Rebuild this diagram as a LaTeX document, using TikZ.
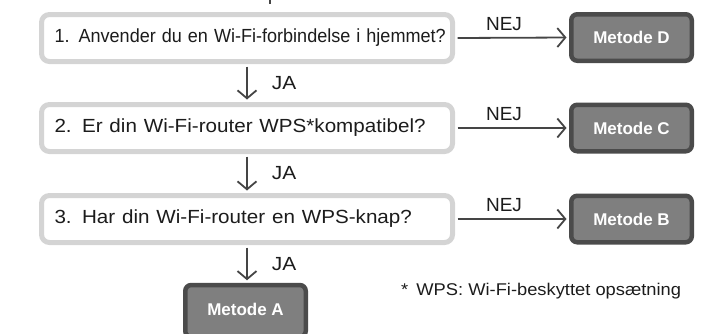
\documentclass[tikz,border=0pt]{standalone}
\usepackage{graphicx}
\usepackage{fontspec}
\setmainfont{Liberation Sans}
\usetikzlibrary{arrows.meta}
\definecolor{qborder}{HTML}{D4D4D4}
\definecolor{mborder}{HTML}{4B4B4B}
\definecolor{mfill}{HTML}{7F7F7F}
\definecolor{arrcol}{HTML}{454545}
\definecolor{txtcol}{HTML}{1C1C1C}
\tikzset{
  qbox/.style={draw=qborder, line width=5pt, fill=white, rounded corners=8pt,
    minimum width=411pt, minimum height=47pt, text width=385pt, align=left,
    inner xsep=13pt, font=\fontsize{19}{21}\selectfont, text=txtcol},
  mbox/.style={draw=mborder, line width=4.5pt, fill=mfill, rounded corners=6pt,
    minimum width=120.5pt, minimum height=46.5pt, inner sep=0pt,
    font=\fontsize{17}{19}\selectfont\bfseries, text=white},
  arr/.style={draw=arrcol, line width=1.8pt,
    -{Straight Barb[length=8pt,width=19pt,line width=1.8pt]},
    shorten <=2.5pt, shorten >=2.5pt},
  lbl/.style={font=\fontsize{19}{21}\selectfont, text=txtcol, inner sep=0pt},
}
\begin{document}
\begin{tikzpicture}[x=1pt,y=-1pt]
\useasboundingbox (0,0) rectangle (701,333);
\clip (0,0) rectangle (701,333);
\coordinate (top) at (270,0);
\draw[arrcol, line width=1.5pt] (top) -- ++(0,4);
\node[qbox] (q1) at (247,38) {\scalebox{0.95}[1]{1. Anvender du en Wi-Fi-forbindelse i hjemmet?}};
\node[qbox] (q2) at (247,128) {\scalebox{1.085}[1]{2. Er din Wi-Fi-router WPS*kompatibel?}};
\node[qbox] (q3) at (247,219) {\scalebox{1.085}[1]{3. Har din Wi-Fi-router en WPS-knap?}};
\node[mbox] (mD) at (631.5,37.5) {Metode D};
\node[mbox] (mC) at (631.5,128) {Metode C};
\node[mbox] (mB) at (631.5,219) {Metode B};
\node[mbox, minimum height=52pt] (mA) at (245.5,311) {};
\node[font=\fontsize{17}{19}\selectfont\bfseries, text=white] (mAt) at (245.5,309.5) {Metode A};
\draw[arr] (q1.south) -- (q2.north) node[lbl, midway, anchor=west, xshift=24pt] (ja1) {\scalebox{1.1}[1]{JA}};
\draw[arr] (q2.south) -- (q3.north) node[lbl, midway, anchor=west, xshift=24pt] (ja2) {\scalebox{1.1}[1]{JA}};
\draw[arr] (q3.south) -- (q3.south |- mA.north) node[lbl, midway, anchor=west, xshift=24pt] (ja3) {\scalebox{1.1}[1]{JA}};
\draw[arr] (q1.east) -- (mD.west) node[lbl, pos=0.43, above=6pt] (nej1) {NEJ};
\draw[arr] (q2.east) -- (mC.west) node[lbl, pos=0.43, above=6pt] (nej2) {NEJ};
\draw[arr] (q3.east) -- (mB.west) node[lbl, pos=0.43, above=6pt] (nej3) {NEJ};
\node[anchor=west, inner sep=0pt, font=\fontsize{17}{19}\selectfont, text=txtcol] (fn) at (401,291) {\scalebox{1.077}[1]{*\, WPS: Wi-Fi-beskyttet opsætning}};
\end{tikzpicture}
\end{document}
